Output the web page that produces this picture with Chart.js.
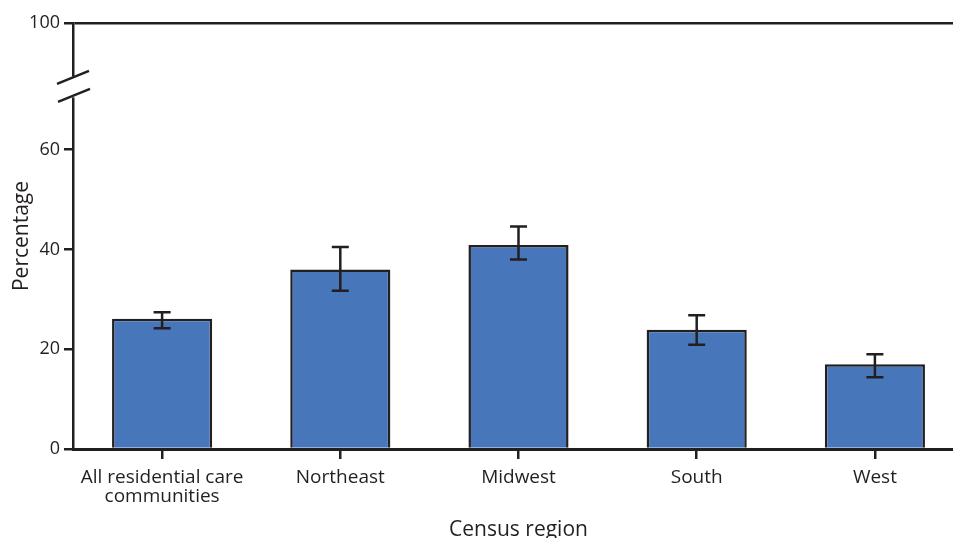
<!DOCTYPE html>
<html><head><meta charset="utf-8">
<script src="https://cdn.jsdelivr.net/npm/chart.js@4/dist/chart.umd.min.js"></script>
<style>html,body{margin:0;padding:0;background:#fff;overflow:hidden;width:953px;height:538px}</style>
</head><body>
<canvas id="c" width="975" height="538" style="width:975px;height:538px;display:block"></canvas>
<script>
const categories = [["All residential care","communities"],"Northeast","Midwest","South","West"];
const percentages = [26.1, 36.0, 40.9, 23.9, 17.0];
const ciLow = [24.2, 31.7, 38.0, 20.9, 14.4];
const ciHigh = [27.4, 40.5, 44.6, 26.8, 19.0];
const yTicks = [0, 20, 40, 60];
const yTopLabel = "100";
const yTopPosition = 85.4; // where the broken axis places 100

const INK = '#231F20';
const FONT = "'Open Sans', sans-serif";

const errorBars = {
  id: 'errorBars',
  afterDatasetsDraw(chart) {
    const {ctx, scales: {x, y}} = chart;
    ctx.save();
    ctx.strokeStyle = INK; ctx.lineWidth = 2.5;
    percentages.forEach((v, i) => {
      const px = x.getPixelForValue(i);
      const lo = y.getPixelForValue(ciLow[i]);
      const hi = y.getPixelForValue(ciHigh[i]);
      ctx.beginPath();
      ctx.moveTo(px, lo); ctx.lineTo(px, hi);
      ctx.moveTo(px - 8.5, lo); ctx.lineTo(px + 8.5, lo);
      ctx.moveTo(px - 8.5, hi); ctx.lineTo(px + 8.5, hi);
      ctx.stroke();
    });
    ctx.restore();
  },
  afterDraw(chart) {
    const {ctx, scales: {y}} = chart;
    const ax = y.right;
    const c = y.getPixelForValue(72.6);
    ctx.save();
    ctx.fillStyle = '#fff';
    ctx.fillRect(ax - 3, c - 10.5, 6, 21);
    ctx.strokeStyle = INK; ctx.lineWidth = 2.5;
    ctx.beginPath();
    ctx.moveTo(ax - 16, c - 3); ctx.lineTo(ax + 16, c - 16);
    ctx.moveTo(ax - 15, c + 15); ctx.lineTo(ax + 17, c + 2);
    ctx.stroke();
    ctx.restore();
  }
};

new Chart(document.getElementById('c'), {
  type: 'bar',
  data: {
    labels: categories,
    datasets: [{
      data: percentages,
      backgroundColor: '#4777BA',
      borderColor: INK,
      borderWidth: 2.5,
      borderSkipped: 'bottom',
      barPercentage: 1,
      categoryPercentage: 100 / 178
    }]
  },
  options: {
    responsive: false,
    animation: false,
    layout: {padding: {top: 23, right: 11, left: 0, bottom: 0}},
    plugins: {legend: {display: false}, tooltip: {enabled: false}},
    scales: {
      x: {
        grid: {drawOnChartArea: false, offset: false, tickLength: 10, color: INK, lineWidth: 2.5},
        border: {color: INK, width: 3},
        ticks: {color: INK, font: {family: FONT, size: 19, lineHeight: 1.0}, padding: 9, maxRotation: 0, autoSkip: false},
        title: {display: true, text: 'Census region', color: INK, font: {family: FONT, size: 21}, padding: {top: 0, bottom: -5}},
        afterFit(s) { s.height = 89; }
      },
      y: {
        min: 0, max: yTopPosition,
        afterBuildTicks(s) { s.ticks = yTicks.concat([yTopPosition]).map(v => ({value: v})); },
        grid: {
          color: ctx => (ctx.tick && ctx.tick.value > 61) ? INK : 'rgba(0,0,0,0)',
          tickColor: INK, lineWidth: 2.5, tickLength: 9, drawTicks: true
        },
        border: {color: INK, width: 2.5},
        ticks: {
          color: INK, font: {family: FONT, size: 18}, padding: 4,
          callback: v => (v > 61 ? yTopLabel : String(v))
        },
        title: {display: true, text: 'Percentage', color: INK, font: {family: FONT, size: 21}, padding: {top: 9, bottom: 0}},
        afterFit(s) { s.width = 73; }
      }
    }
  },
  plugins: [errorBars]
});
</script>
</body></html>
